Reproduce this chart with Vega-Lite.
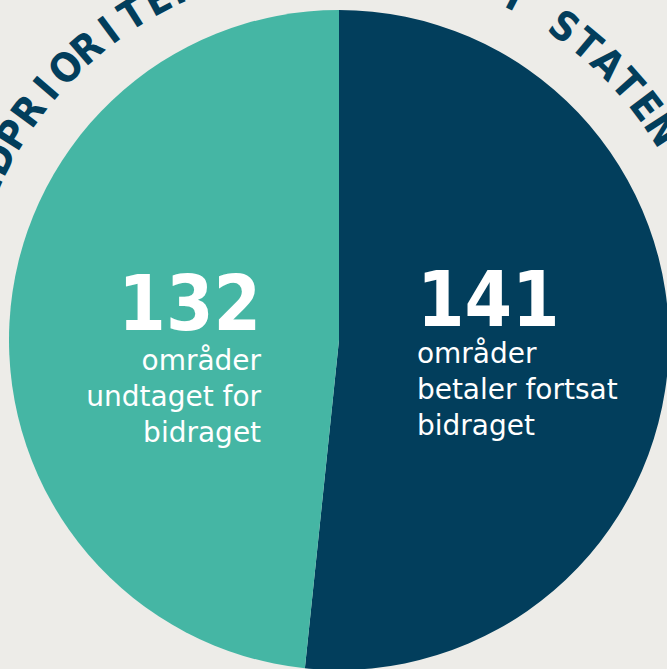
{
  "$schema": "https://vega.github.io/schema/vega-lite/v6.json",
  "width": 678,
  "height": 680,
  "autosize": {"type": "none"},
  "padding": {"left": 0, "top": 0, "right": -11, "bottom": -11},
  "background": "#edece8",
  "config": {"view": {"stroke": null}},
  "datasets": {
    "slices": [
      {"cat": "fortsat", "n": 141, "label": "områder\nbetaler fortsat\nbidraget"},
      {"cat": "undtaget", "n": 132, "label": "områder\nundtaget for\nbidraget"}
    ],
    "ring": [
      {"ch": "N", "i": -3}, {"ch": "E", "i": -2}, {"ch": "D", "i": -1},
      {"ch": "P", "i": 0}, {"ch": "R", "i": 1}, {"ch": "I", "i": 2}, {"ch": "O", "i": 3},
      {"ch": "R", "i": 4}, {"ch": "I", "i": 5}, {"ch": "T", "i": 6}, {"ch": "E", "i": 7},
      {"ch": "R", "i": 8}, {"ch": "E", "i": 9}, {"ch": "T", "i": 10},
      {"ch": "O", "i": 12}, {"ch": "M", "i": 13}, {"ch": "R", "i": 14}, {"ch": "Å", "i": 15},
      {"ch": "D", "i": 16}, {"ch": "E", "i": 17}, {"ch": "R", "i": 18},
      {"ch": "I", "i": 20},
      {"ch": "S", "i": 22}, {"ch": "T", "i": 23}, {"ch": "A", "i": 24}, {"ch": "T", "i": 25},
      {"ch": "E", "i": 26}, {"ch": "N", "i": 27}
    ]
  },
  "data": {"name": "slices"},
  "layer": [
    {
      "mark": {"type": "arc", "outerRadius": 330},
      "encoding": {
        "theta": {"field": "n", "type": "quantitative", "stack": true},
        "order": {"field": "cat", "type": "ordinal", "sort": "ascending"},
        "color": {
          "field": "cat", "type": "nominal",
          "scale": {"domain": ["fortsat", "undtaget"], "range": ["#023e5c", "#45b6a4"]},
          "legend": null
        }
      }
    },
    {
      "mark": {
        "type": "text", "radius": 78, "font": "DejaVu Sans Condensed", "fontWeight": "bold",
        "fontSize": 76, "color": "#ffffff", "baseline": "alphabetic",
        "align": {"expr": "datum.cat == 'fortsat' ? 'left' : 'right'"},
        "dy": {"expr": "datum.cat == 'fortsat' ? -18 : -6"}
      },
      "encoding": {
        "theta": {"field": "n", "type": "quantitative", "stack": true},
        "order": {"field": "cat", "type": "ordinal", "sort": "ascending"},
        "detail": {"field": "cat", "type": "nominal"},
        "text": {"field": "n", "type": "quantitative"}
      }
    },
    {
      "mark": {
        "type": "text", "radius": 78, "font": "DejaVu Sans", "fontSize": 28,
        "color": "#ffffff", "baseline": "alphabetic", "lineBreak": "\n", "lineHeight": 36,
        "align": {"expr": "datum.cat == 'fortsat' ? 'left' : 'right'"},
        "dy": {"expr": "datum.cat == 'fortsat' ? 19 : 34"}
      },
      "encoding": {
        "theta": {"field": "n", "type": "quantitative", "stack": true},
        "order": {"field": "cat", "type": "ordinal", "sort": "ascending"},
        "detail": {"field": "cat", "type": "nominal"},
        "text": {"field": "label", "type": "nominal"}
      }
    },
    {
      "data": {"name": "ring"},
      "mark": {
        "type": "text", "radius": 384, "font": "DejaVu Sans Condensed", "fontWeight": "bold",
        "fontSize": 40, "color": "#023e5c", "baseline": "middle", "align": "center"
      },
      "encoding": {
        "text": {"field": "ch", "type": "nominal"},
        "theta": {
          "field": "i", "type": "quantitative", "stack": null,
          "scale": {"domain": [-3, 27], "range": [-1.23133, 0.99397]}
        },
        "angle": {
          "field": "i", "type": "quantitative",
          "scale": {"domain": [-3, 27], "range": [-70.55, 56.95]}
        }
      }
    }
  ],
  "resolve": {"scale": {"theta": "independent", "angle": "independent"}}
}
